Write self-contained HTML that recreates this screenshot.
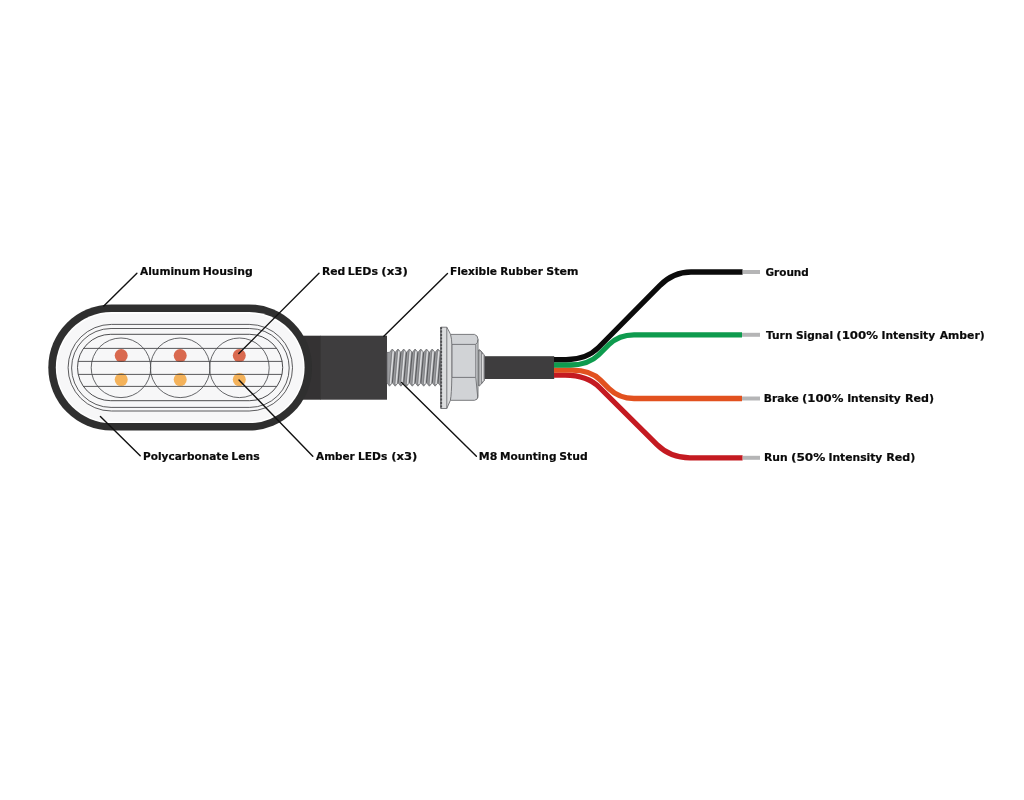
<!DOCTYPE html>
<html lang="en">
<head>
<meta charset="utf-8">
<title>LED Turn Signal Wiring Diagram</title>
<style>
html,body{margin:0;padding:0;background:#fff;}
body{width:1024px;height:800px;overflow:hidden;font-family:"DejaVu Sans","Liberation Sans",sans-serif;}
svg{display:block;}
</style>
</head>
<body>
<svg width="1024" height="800" viewBox="0 0 1024 800">
<defs>
<linearGradient id="thr" x1="0" y1="0" x2="0" y2="1">
<stop offset="0" stop-color="#a9abae"/>
<stop offset="0.5" stop-color="#b4b6b9"/>
<stop offset="1" stop-color="#9c9ea1"/>
</linearGradient>
</defs>
<rect x="0" y="0" width="1024" height="800" fill="#ffffff"/>
<rect x="300" y="335.7" width="21" height="64" fill="#343233"/>
<rect x="320.6" y="335.7" width="66.4" height="64" fill="#3e3d3e"/>
<g fill="#2f2f2f"><rect x="48.3" y="304.4" width="263.70" height="126.20" rx="63.10" ry="63.10"/></g>
<g fill="#ffffff"><rect x="55.8" y="312.1" width="248.80" height="111.00" rx="55.50" ry="55.50"/></g>
<g fill="#f7f7f8"><rect x="57.2" y="313.8" width="246.00" height="107.80" rx="53.90" ry="53.90"/></g>
<g fill="none" stroke="#3e3e41" stroke-width="0.85">
<rect x="68.1" y="324.4" width="224.40" height="86.60" rx="43.30" ry="43.30"/>
<rect x="71.6" y="328.5" width="217.60" height="78.90" rx="39.45" ry="39.45"/>
</g>
<g fill="none" stroke="#3a3a3c" stroke-width="0.9">
<rect x="77.5" y="334.3" width="205.20" height="66.40" rx="33.20" ry="33.20"/>
</g>
<circle cx="121.2" cy="355.6" r="6.5" fill="#d9694f"/>
<circle cx="121.2" cy="379.6" r="6.5" fill="#f4b25a"/>
<circle cx="180.2" cy="355.6" r="6.5" fill="#d9694f"/>
<circle cx="180.2" cy="379.6" r="6.5" fill="#f4b25a"/>
<circle cx="239.3" cy="355.6" r="6.5" fill="#d9694f"/>
<circle cx="239.3" cy="379.6" r="6.5" fill="#f4b25a"/>
<g stroke="#3d3d40" stroke-width="0.85">
<line x1="83.54" y1="348.4" x2="276.66" y2="348.4"/>
<line x1="78.07" y1="361.4" x2="282.13" y2="361.4"/>
<line x1="78.22" y1="374.4" x2="281.98" y2="374.4"/>
<line x1="83.40" y1="386.4" x2="276.80" y2="386.4"/>
</g>
<g fill="none" stroke="#4a4b4f" stroke-width="0.85">
<circle cx="121" cy="367.8" r="29.8"/>
<circle cx="180.2" cy="367.8" r="29.8"/>
<circle cx="239.4" cy="367.8" r="29.8"/>
</g>
<path d="M387.00,352.40 L389.45,352.40 L392.30,349.00 L395.15,352.40 L398.00,349.00 L400.85,352.40 L403.70,349.00 L406.55,352.40 L409.40,349.00 L412.25,352.40 L415.10,349.00 L417.95,352.40 L420.80,349.00 L423.65,352.40 L426.50,349.00 L429.35,352.40 L432.20,349.00 L435.05,352.40 L437.90,349.00 L441.00,352.40 L441.00,382.80 L440.80,386.20 L437.95,382.80 L435.10,386.20 L432.25,382.80 L429.40,386.20 L426.55,382.80 L423.70,386.20 L420.85,382.80 L418.00,386.20 L415.15,382.80 L412.30,386.20 L409.45,382.80 L406.60,386.20 L403.75,382.80 L400.90,386.20 L398.05,382.80 L395.20,386.20 L392.35,382.80 L389.50,386.20 L387.00,382.80 Z" fill="#9a9b9e" stroke="#5f6063" stroke-width="0.7" stroke-linejoin="round"/>
<g stroke="#5a5b5e" stroke-width="1.1" fill="none">
<line x1="392.35" y1="382.8" x2="395.15" y2="352.4"/>
<line x1="398.05" y1="382.8" x2="400.85" y2="352.4"/>
<line x1="403.75" y1="382.8" x2="406.55" y2="352.4"/>
<line x1="409.45" y1="382.8" x2="412.25" y2="352.4"/>
<line x1="415.15" y1="382.8" x2="417.95" y2="352.4"/>
<line x1="420.85" y1="382.8" x2="423.65" y2="352.4"/>
<line x1="426.55" y1="382.8" x2="429.35" y2="352.4"/>
<line x1="432.25" y1="382.8" x2="435.05" y2="352.4"/>
<line x1="437.95" y1="382.8" x2="440.75" y2="352.4"/>
</g>
<g stroke="#dcdddf" stroke-width="1.5" fill="none">
<line x1="390.40" y1="384.0" x2="393.20" y2="351.2"/>
<line x1="396.10" y1="384.0" x2="398.90" y2="351.2"/>
<line x1="401.80" y1="384.0" x2="404.60" y2="351.2"/>
<line x1="407.50" y1="384.0" x2="410.30" y2="351.2"/>
<line x1="413.20" y1="384.0" x2="416.00" y2="351.2"/>
<line x1="418.90" y1="384.0" x2="421.70" y2="351.2"/>
<line x1="424.60" y1="384.0" x2="427.40" y2="351.2"/>
<line x1="430.30" y1="384.0" x2="433.10" y2="351.2"/>
<line x1="436.00" y1="384.0" x2="438.80" y2="351.2"/>
</g>
<g stroke="#77787b" stroke-width="0.7" fill="none">
<line x1="389.00" y1="384.7" x2="391.80" y2="350.5"/>
<line x1="394.70" y1="384.7" x2="397.50" y2="350.5"/>
<line x1="400.40" y1="384.7" x2="403.20" y2="350.5"/>
<line x1="406.10" y1="384.7" x2="408.90" y2="350.5"/>
<line x1="411.80" y1="384.7" x2="414.60" y2="350.5"/>
<line x1="417.50" y1="384.7" x2="420.30" y2="350.5"/>
<line x1="423.20" y1="384.7" x2="426.00" y2="350.5"/>
<line x1="428.90" y1="384.7" x2="431.70" y2="350.5"/>
<line x1="434.60" y1="384.7" x2="437.40" y2="350.5"/>
</g>
<rect x="484.4" y="356.2" width="69.8" height="22.8" fill="#3e3d3e"/>
<path d="M477,351.6 L479.2,349.6 L481,351 L484.4,355.2 L484.4,380.4 L481,384.4 L479.2,386 L477,384 Z" fill="#8b8c8f" stroke="#5f6063" stroke-width="0.8" stroke-linejoin="round"/>
<path d="M480.2,351.5 L480.2,384.5" fill="none" stroke="#c9cacc" stroke-width="1.3"/>
<path d="M482.8,354.2 L482.8,381.6" fill="none" stroke="#f0f0f1" stroke-width="1.2"/>
<g stroke="#6c6d70" stroke-width="0.9" stroke-linejoin="round">
<path d="M450.4,334.4 L474.5,334.4 Q478,335.4 478,339.4 L478,396 Q478,400 474.5,400.3 L450.4,400.3 Z" fill="#d1d3d6"/>
<path d="M449.6,344.4 L475.6,344.4 Q478,343 478,339.4 M449.6,377.4 L475.6,377.4 M451.8,344.4 L451.8,377.4 M475.8,344.4 L475.8,377.4 M475.8,377.4 L477.8,398" fill="none"/>
<path d="M440.8,327.2 L446.8,327.2 Q450,333 450.6,334.6 Q451.8,339 451.8,344.4 L451.8,377.4 Q451.6,394 450.4,400.3 L446.8,408.5 L440.8,408.5 Z" fill="#dcddde"/>
<path d="M446.8,327.2 L446.8,408.5" fill="none"/>
</g>
<path d="M441,327.2 L441,408.5" stroke="#5a5b5e" stroke-width="0.9" fill="none"/>
<path d="M441.2,327.2 L441.2,408.5" stroke="#4d4d4f" stroke-width="1.8" stroke-dasharray="1.9 1.5" fill="none"/>
<g fill="none" stroke-width="5.3">
<path stroke="#c41a21" d="M554,375.2 L565,375.2 Q587.6,375.2 600,388 L657,444.6 Q670.5,457.8 690,457.8 L742.6,457.8"/>
<path stroke="#e2511f" d="M554,370.2 L572,370.2 Q590.5,370.2 600.5,380.2 L609,388.7 Q619,398.5 634,398.5 L742,398.5"/>
<path stroke="#0e9b4e" d="M554,365 L570,365 Q588.5,365 598.5,355 L609,344.5 Q619,334.8 634,334.8 L742,334.8"/>
<path stroke="#0b0b0b" d="M554,359.6 L566,359.6 Q586.5,359.6 598.5,347.5 L659.5,285.8 Q673.1,272 691,272 L742.6,272"/>
</g>
<g stroke="#b5b5b6" stroke-width="4" fill="none">
<path d="M742.8,272 L760,272"/>
<path d="M742,334.8 L760,334.8"/>
<path d="M742,398.5 L760,398.5"/>
<path d="M742.8,457.8 L760,457.8"/>
</g>
<g stroke="#111" stroke-width="1.4" fill="none" stroke-linecap="round">
<line x1="136.9" y1="273.3" x2="103.8" y2="306"/>
<line x1="319" y1="273.3" x2="238.8" y2="353.6"/>
<line x1="447.5" y1="273.6" x2="383.8" y2="336.3"/>
<line x1="140.2" y1="455.8" x2="100.4" y2="416.6"/>
<line x1="312.8" y1="456.3" x2="239" y2="380"/>
<line x1="476.4" y1="456.3" x2="401.6" y2="382.5"/>
</g>
<g font-family="'DejaVu Sans', 'Liberation Sans', sans-serif" font-weight="bold" font-size="11" fill="#0a0a0a" stroke="#0a0a0a" stroke-width="0.2" style="will-change:transform">
<text x="140.0" y="275"><tspan x="140.0" textLength="60.23" lengthAdjust="spacingAndGlyphs">Aluminum</tspan> <tspan x="202.76" textLength="50.0" lengthAdjust="spacingAndGlyphs">Housing</tspan></text>
<text x="321.92" y="275"><tspan x="321.92" textLength="23.34" lengthAdjust="spacingAndGlyphs">Red</tspan> <tspan x="347.75" textLength="30.2" lengthAdjust="spacingAndGlyphs">LEDs</tspan> <tspan x="381.28" textLength="26.61" lengthAdjust="spacingAndGlyphs">(x3)</tspan></text>
<text x="449.93" y="275"><tspan x="449.93" textLength="47.11" lengthAdjust="spacingAndGlyphs">Flexible</tspan> <tspan x="500.3" textLength="42.52" lengthAdjust="spacingAndGlyphs">Rubber</tspan> <tspan x="546.3" textLength="32.06" lengthAdjust="spacingAndGlyphs">Stem</tspan></text>
<text x="143.04" y="460"><tspan x="143.04" textLength="85.5" lengthAdjust="spacingAndGlyphs">Polycarbonate</tspan> <tspan x="231.31" textLength="28.53" lengthAdjust="spacingAndGlyphs">Lens</tspan></text>
<text x="316.1" y="460"><tspan x="316.1" textLength="38.62" lengthAdjust="spacingAndGlyphs">Amber</tspan> <tspan x="358.03" textLength="29.3" lengthAdjust="spacingAndGlyphs">LEDs</tspan> <tspan x="391.25" textLength="26.12" lengthAdjust="spacingAndGlyphs">(x3)</tspan></text>
<text x="478.8" y="460"><tspan x="478.8" textLength="18.55" lengthAdjust="spacingAndGlyphs">M8</tspan> <tspan x="499.94" textLength="56.5" lengthAdjust="spacingAndGlyphs">Mounting</tspan> <tspan x="559.31" textLength="28.45" lengthAdjust="spacingAndGlyphs">Stud</tspan></text>
<text x="765.42" y="276"><tspan x="765.42" textLength="43.41" lengthAdjust="spacingAndGlyphs">Ground</tspan></text>
<text x="765.9" y="339"><tspan x="765.9" textLength="26.61" lengthAdjust="spacingAndGlyphs">Turn</tspan> <tspan x="795.92" textLength="37.21" lengthAdjust="spacingAndGlyphs">Signal</tspan> <tspan x="836.29" textLength="41.81" lengthAdjust="spacingAndGlyphs">(100%</tspan> <tspan x="881.53" textLength="53.64" lengthAdjust="spacingAndGlyphs">Intensity</tspan> <tspan x="939.75" textLength="44.91" lengthAdjust="spacingAndGlyphs">Amber)</tspan></text>
<text x="763.77" y="402"><tspan x="763.77" textLength="34.93" lengthAdjust="spacingAndGlyphs">Brake</tspan> <tspan x="802.04" textLength="41.4" lengthAdjust="spacingAndGlyphs">(100%</tspan> <tspan x="847.13" textLength="53.64" lengthAdjust="spacingAndGlyphs">Intensity</tspan> <tspan x="904.99" textLength="29.04" lengthAdjust="spacingAndGlyphs">Red)</tspan></text>
<text x="764.02" y="461"><tspan x="764.02" textLength="23.7" lengthAdjust="spacingAndGlyphs">Run</tspan> <tspan x="790.91" textLength="34.44" lengthAdjust="spacingAndGlyphs">(50%</tspan> <tspan x="828.42" textLength="53.99" lengthAdjust="spacingAndGlyphs">Intensity</tspan> <tspan x="886.24" textLength="29.09" lengthAdjust="spacingAndGlyphs">Red)</tspan></text>
</g>
</svg>
</body>
</html>
